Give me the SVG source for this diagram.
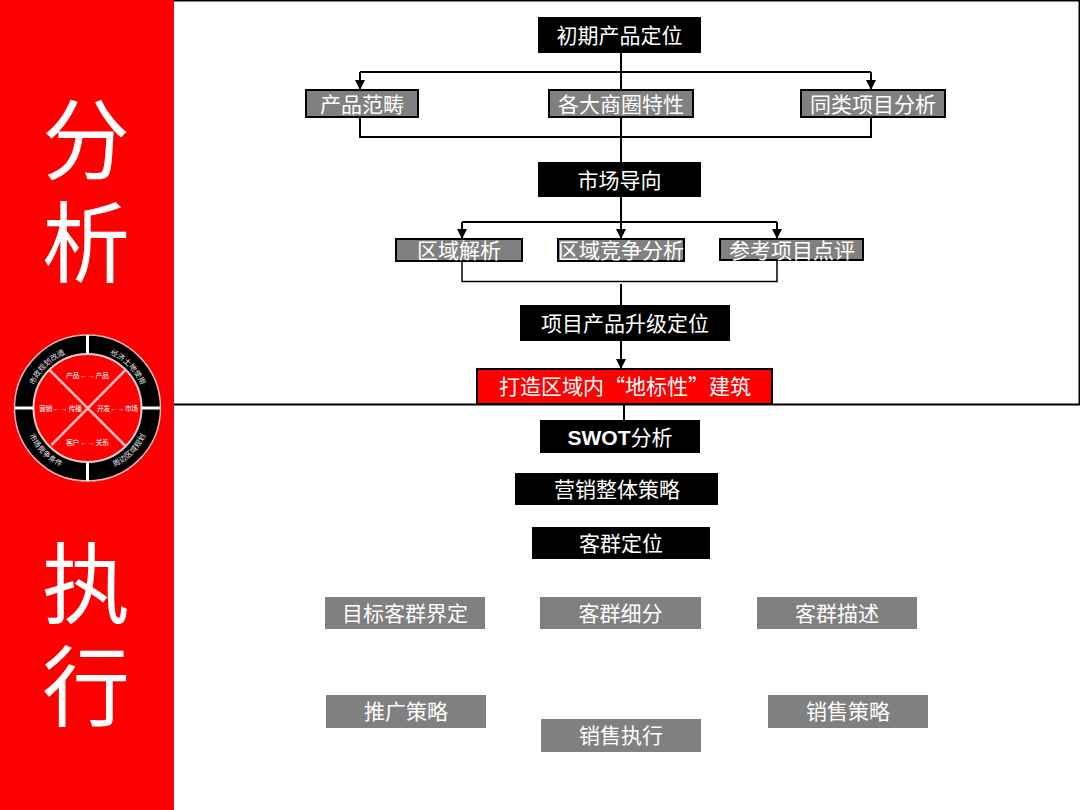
<svg xmlns="http://www.w3.org/2000/svg" width="1080" height="810" viewBox="0 0 1080 810">
<defs>
<marker id="a" markerUnits="userSpaceOnUse" markerWidth="11" markerHeight="11" refX="10" refY="5" orient="auto"><path d="M0 0L10 5L0 10z" fill="#000"/></marker>
<path id="t1" d="M33 388A58 58 0 0 1 68 353"/>
<path id="t2" d="M107 353A58 58 0 0 1 142 388"/>
<path id="t3" d="M27 430A65 65 0 0 0 66 469"/>
<path id="t4" d="M109 469A65 65 0 0 0 148 430"/>
</defs>
<style>
text{font-family:"Liberation Sans","Noto Sans CJK SC",sans-serif;fill:#fff;text-anchor:middle}
.b{fill:#000}.g{fill:#808080}.gb{fill:#808080;stroke:#000;stroke-width:2}
.l{font-size:21px}.s{font-size:7px}.r{font-size:7.500px;fill:#e8e8e8}
.c{fill:none;stroke:#000;stroke-width:2}
.big{font-size:88px}
</style>
<rect width="1080" height="810" fill="#fff"/>
<rect x="0" y="0" width="174" height="810" fill="#f00"/>
<path d="M174 0.500H1079.500V404.500H174" fill="none" stroke="#000" stroke-width="2"/>
<g id="side">
<text class="big" x="86" y="172">分</text>
<text class="big" x="86" y="275">析</text>
<text class="big" x="86" y="616">执</text>
<text class="big" x="86" y="719">行</text>
</g>
<g id="wheel">
<circle cx="87.500" cy="408" r="73" fill="#000" stroke="#e8b0b0" stroke-width="1.500"/>
<circle cx="87.500" cy="408" r="54" fill="#f00" stroke="#f4cccc" stroke-width="2"/>
<path d="M87.500 335V354M87.500 462V481M15 408H34M141 408H160" stroke="#fff" stroke-width="3"/>
<path d="M49.500 370L125.500 446M125.500 370L51.500 445" stroke="#f0b8b8" stroke-width="2.500"/>
<text class="s" x="87.500" y="378" textLength="43">产品 ← → 产品</text>
<text class="s" x="60.500" y="411" textLength="43">营销 ← → 传播</text>
<text class="s" x="117.500" y="411" textLength="41">开发 ← → 市场</text>
<text class="s" x="87.500" y="445" textLength="43">客户 ← → 关系</text>
<text class="r"><textPath href="#t1" startOffset="50%">市政规划改造</textPath></text>
<text class="r"><textPath href="#t2" startOffset="50%">经济土地使用</textPath></text>
<text class="r"><textPath href="#t3" startOffset="50%">市场竞争条件</textPath></text>
<text class="r"><textPath href="#t4" startOffset="50%">周边区域规划</textPath></text>
</g>
<g id="connectors">
<path class="c" d="M621 53V162"/>
<path class="c" d="M360 72H871"/>
<path class="c" d="M360 72V90" marker-end="url(#a)"/>
<path class="c" d="M871 72V90" marker-end="url(#a)"/>
<path class="c" d="M360 117V137H871V117"/>
<path class="c" d="M621 197V239" marker-end="url(#a)"/>
<path class="c" d="M462 222H777"/>
<path class="c" d="M462 222V239" marker-end="url(#a)"/>
<path class="c" d="M777 222V239" marker-end="url(#a)"/>
<path d="M462 261V281.500H777V261" fill="none" stroke="#000" stroke-width="1.500"/>
<path class="c" d="M621 284V305"/>
<path class="c" d="M621 341V369" marker-end="url(#a)"/>
<path class="c" d="M624 405V420"/>
</g>
<g id="n1"><rect class="b" x="538" y="17" width="163" height="36"/><text class="l" x="619.500" y="43">初期产品定位</text></g>
<g id="n2"><rect class="gb" x="306" y="90" width="112" height="27"/><text class="l" x="362" y="112">产品范畴</text></g>
<g id="n3"><rect class="gb" x="549" y="90" width="144" height="27"/><text class="l" x="621" y="112">各大商圈特性</text></g>
<g id="n4"><rect class="gb" x="801" y="90" width="144" height="27"/><text class="l" x="873" y="112">同类项目分析</text></g>
<g id="n5"><rect class="b" x="538" y="162" width="163" height="35"/><text class="l" x="619.500" y="188">市场导向</text></g>
<g id="n6"><rect class="gb" x="396" y="239" width="126" height="22"/><text class="l" x="459" y="258">区域解析</text></g>
<g id="n7"><rect class="gb" x="558" y="239" width="126" height="22"/><text class="l" x="621" y="258">区域竞争分析</text></g>
<g id="n8"><rect class="gb" x="720" y="239" width="143" height="21"/><text class="l" x="792" y="258">参考项目点评</text></g>
<g id="n9"><rect class="b" x="520" y="305" width="210" height="36"/><text class="l" x="625" y="331">项目产品升级定位</text></g>
<g id="n10"><rect x="477" y="369" width="295" height="35" fill="#f00" stroke="#000" stroke-width="2"/><text class="l" x="625" y="394" style="font-family:'Noto Sans CJK SC',sans-serif">打造区域内“地标性”建筑</text></g>
<g id="n11"><rect class="b" x="540" y="420" width="160" height="33"/><text class="l" x="620" y="445" font-weight="700">SWOT<tspan font-weight="400">分析</tspan></text></g>
<g id="n12"><rect class="b" x="515" y="473" width="203" height="32"/><text class="l" x="617" y="497">营销整体策略</text></g>
<g id="n13"><rect class="b" x="532" y="527" width="178" height="32"/><text class="l" x="621" y="551">客群定位</text></g>
<g id="n14"><rect class="g" x="325" y="597" width="160" height="32"/><text class="l" x="405" y="621">目标客群界定</text></g>
<g id="n15"><rect class="g" x="540" y="597" width="161" height="32"/><text class="l" x="620.500" y="621">客群细分</text></g>
<g id="n16"><rect class="g" x="757" y="597" width="160" height="32"/><text class="l" x="837" y="621">客群描述</text></g>
<g id="n17"><rect class="g" x="326" y="695" width="160" height="33"/><text class="l" x="406" y="719">推广策略</text></g>
<g id="n18"><rect class="g" x="541" y="719" width="160" height="33"/><text class="l" x="621" y="743">销售执行</text></g>
<g id="n19"><rect class="g" x="768" y="695" width="160" height="33"/><text class="l" x="848" y="719">销售策略</text></g>
</svg>
